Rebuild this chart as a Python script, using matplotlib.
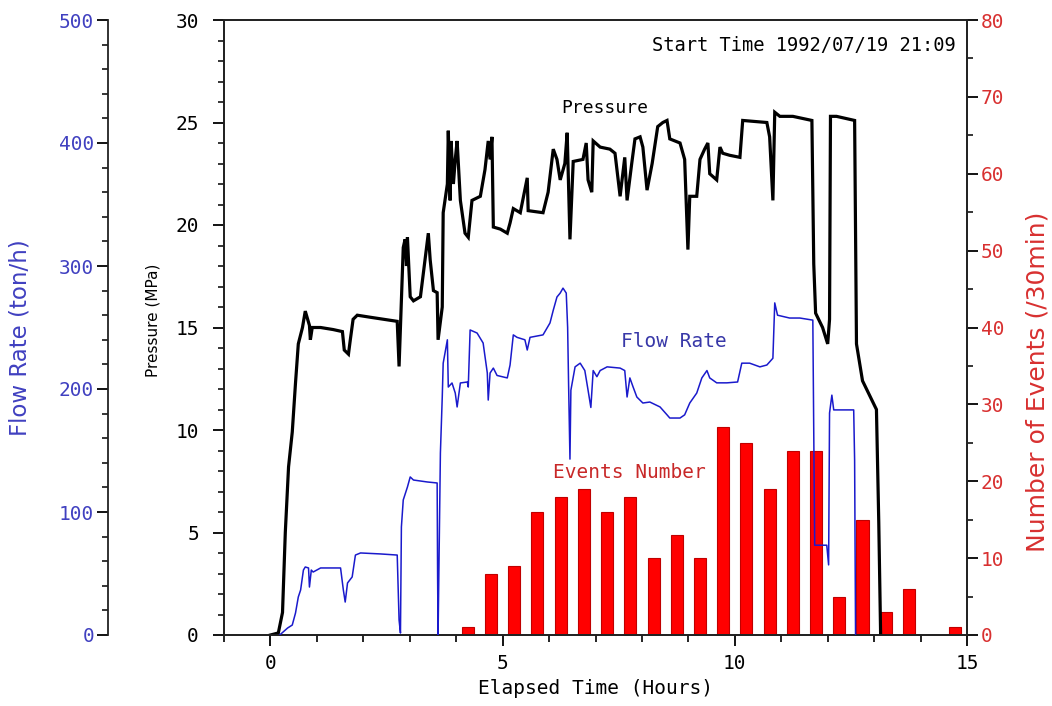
import matplotlib
matplotlib.use("Agg")
import matplotlib.pyplot as plt
from matplotlib.ticker import MultipleLocator

# ---- data ----
pressure_t = [0.0, 0.17, 0.26, 0.32, 0.39, 0.47, 0.54, 0.60, 0.69, 0.75, 0.84, 0.86, 0.90, 1.08, 1.35,
              1.55, 1.59, 1.68, 1.72, 1.78, 1.87, 2.15, 2.73, 2.77, 2.80, 2.84, 2.86, 2.90, 2.93, 2.95,
              3.01, 3.08, 3.23, 3.33, 3.40, 3.44, 3.51, 3.59, 3.61, 3.70, 3.72, 3.81, 3.83, 3.87, 3.89,
              3.94, 3.98, 4.02, 4.09, 4.19, 4.26, 4.34, 4.52, 4.62, 4.69, 4.73, 4.77, 4.80, 4.95, 5.10,
              5.16, 5.23, 5.38, 5.53, 5.55, 5.87, 5.98, 6.09, 6.17, 6.24, 6.34, 6.39, 6.45, 6.52, 6.73,
              6.80, 6.84, 6.92, 6.95, 7.10, 7.31, 7.42, 7.53, 7.63, 7.68, 7.78, 7.85, 7.96, 8.02, 8.11,
              8.22, 8.34, 8.45, 8.54, 8.60, 8.82, 8.92, 8.99, 9.03, 9.18, 9.25, 9.35, 9.42, 9.46, 9.61,
              9.68, 9.74, 9.89, 10.11, 10.17, 10.69, 10.75, 10.82, 10.86, 10.97, 11.25, 11.66, 11.70,
              11.74, 11.89, 12.00, 12.04, 12.06, 12.19, 12.58, 12.62, 12.75, 13.05, 13.10, 13.14]
pressure_mpa = [0.0, 0.1, 1.1, 5.0, 8.2, 9.9, 12.3, 14.2, 15.0, 15.8, 15.1, 14.4, 15.0, 15.0, 14.9,
                14.8, 13.9, 13.7, 14.4, 15.4, 15.6, 15.5, 15.3, 13.1, 15.0, 17.5, 18.9, 19.3, 18.0, 19.4,
                16.5, 16.3, 16.5, 18.3, 19.6, 18.3, 16.8, 16.7, 14.4, 16.0, 20.6, 22.0, 24.6, 21.2, 24.1,
                22.0, 23.2, 24.1, 21.2, 19.6, 19.4, 21.2, 21.4, 22.7, 24.1, 23.2, 24.3, 19.9, 19.8, 19.6,
                20.1, 20.8, 20.6, 22.3, 20.7, 20.6, 21.6, 23.7, 23.2, 22.2, 23.0, 24.5, 19.3, 23.1, 23.2,
                24.0, 22.2, 21.6, 24.1, 23.8, 23.7, 23.5, 21.4, 23.3, 21.2, 23.0, 24.2, 24.3, 23.8, 21.7,
                23.0, 24.8, 25.0, 25.1, 24.2, 24.0, 23.2, 18.8, 21.4, 21.4, 23.2, 23.7, 24.0, 22.5, 22.2,
                23.8, 23.5, 23.4, 23.3, 25.1, 25.0, 24.3, 21.2, 25.5, 25.3, 25.3, 25.1, 18.1,
                15.7, 15.0, 14.2, 15.4, 25.3, 25.3, 25.1, 14.2, 12.4, 11.0, 5.5, 0.0]

flow_t = [0.20, 0.37, 0.47, 0.54, 0.60, 0.65, 0.71, 0.75, 0.82, 0.84, 0.88, 0.92, 1.08, 1.51, 1.57,
          1.61, 1.66, 1.76, 1.83, 1.94, 2.37, 2.73, 2.77, 2.80, 2.82, 2.86, 2.95, 3.01, 3.08, 3.38,
          3.59, 3.60, 3.61, 3.66, 3.70, 3.72, 3.81, 3.83, 3.91, 3.98, 4.02, 4.09, 4.24, 4.26, 4.30,
          4.45, 4.58, 4.67, 4.69, 4.73, 4.80, 4.88, 5.10, 5.16, 5.23, 5.31, 5.48, 5.53, 5.59, 5.87,
          6.02, 6.09, 6.17, 6.24, 6.30, 6.37, 6.40, 6.42, 6.45, 6.47, 6.56, 6.67, 6.77, 6.84, 6.90,
          6.95, 7.03, 7.10, 7.25, 7.53, 7.63, 7.68, 7.74, 7.81, 7.89, 8.02, 8.17, 8.39, 8.54, 8.60,
          8.82, 8.92, 9.03, 9.18, 9.29, 9.40, 9.46, 9.61, 9.83, 10.06, 10.15, 10.32, 10.54, 10.69,
          10.82, 10.86, 10.92, 11.18, 11.40, 11.68, 11.72, 11.98, 12.02, 12.04, 12.09, 12.13, 12.56,
          12.58, 12.60]
flow_tph = [0.0, 5.7, 8.1, 17.9, 30.9, 36.6, 52.8, 55.3, 54.5, 39.0, 52.8, 51.2, 54.5, 54.5, 36.6,
            26.8, 42.3, 47.2, 65.0, 66.7, 65.9, 65.0, 12.2, 1.6, 87.8, 109.8, 120.3, 128.5, 126.0, 124.4,
            123.6, 47.2, 0.0, 148.0, 193.5, 221.0, 240.0, 201.6, 204.9, 196.7, 185.4, 204.9, 205.7, 201.6, 248.0,
            245.5, 237.4, 213.0, 191.0, 213.0, 217.0, 211.0, 209.0, 219.5, 244.0, 242.0, 240.0, 231.7, 242.0, 244.0,
            253.7, 264.0, 274.8, 278.0, 282.0, 278.0, 250.0, 205.0, 143.0, 199.0, 218.0, 221.0, 215.0, 199.0, 185.0,
            215.0, 210.0, 215.0, 218.0, 217.0, 215.0, 193.5, 209.0, 201.6, 193.5, 188.6, 189.4, 185.4, 179.0, 176.4,
            176.4, 179.0, 188.6, 196.7, 209.0, 215.0, 209.0, 205.0, 205.0, 205.7, 221.0, 221.0, 218.0, 219.5,
            225.0, 270.0, 260.0, 257.7, 257.7, 256.0, 73.0, 73.0, 57.0, 180.5, 195.0, 183.0, 183.0,
            142.0, 0.0]

event_t = [4.25, 4.75, 5.25, 5.75, 6.25, 6.75, 7.25, 7.75, 8.25, 8.75, 9.25,
           9.75, 10.25, 10.75, 11.25, 11.75, 12.25, 12.75, 13.25, 13.75, 14.25, 14.75]
event_n = [1, 8, 9, 16, 18, 19, 16, 18, 10, 13, 10,
           27, 25, 19, 24, 24, 5, 15, 3, 6, 0, 1]

x_ticks = [0, 5, 10, 15]
p_ticks = [0, 5, 10, 15, 20, 25, 30]
f_ticks = [0, 100, 200, 300, 400, 500]
e_ticks = [0, 10, 20, 30, 40, 50, 60, 70, 80]

# ---- styling ----
MONO = "DejaVu Sans Mono"
SANS = "DejaVu Sans"
BLUE_TXT = "#4040c0"
RED_TXT = "#d83030"

fig = plt.figure(figsize=(10.52, 7.06), dpi=100)
ax = fig.add_axes([224 / 1052, 71 / 706, (967 - 224) / 1052, (635 - 20) / 706])
ax_ev = ax.twinx()
ax_fl = ax.twinx()

ax_ev.set_zorder(0)
ax.set_zorder(1)
ax_fl.set_zorder(2)
ax.patch.set_visible(False)
ax_fl.patch.set_visible(False)
ax_ev.patch.set_facecolor("white")

# bars
ax_ev.bar(event_t, event_n, width=0.26, color="#ff0000", edgecolor="#c00000", linewidth=0.8)
ax_ev.set_ylim(0, 80)

# pressure
ax.plot(pressure_t, pressure_mpa, color="black", lw=2.3, solid_joinstyle="miter")
ax.set_xlim(-1, 15)
ax.set_ylim(0, 30)

# flow rate
ax_fl.plot(flow_t, flow_tph, color="#1a1acc", lw=1.1)
ax_fl.set_ylim(0, 500)

# ---- spines ----
for a in (ax, ax_ev, ax_fl):
    for s in a.spines.values():
        s.set_linewidth(1.3)
        s.set_color("#222222")

ax_fl.spines["left"].set_visible(True)
ax_fl.spines["left"].set_position(("axes", (108 - 224) / (967 - 224)))
ax_fl.spines["right"].set_visible(False)
ax_fl.spines["top"].set_visible(False)
ax_fl.spines["bottom"].set_visible(False)
ax_fl.yaxis.set_ticks_position("left")
ax_fl.yaxis.set_label_position("left")

# ---- ticks ----
ax.set_xticks(x_ticks)
ax.xaxis.set_minor_locator(MultipleLocator(1))
ax.set_yticks(p_ticks)
ax.yaxis.set_minor_locator(MultipleLocator(1))
ax_fl.set_yticks(f_ticks)
ax_fl.yaxis.set_minor_locator(MultipleLocator(20))
ax_ev.set_yticks(e_ticks)
ax_ev.yaxis.set_minor_locator(MultipleLocator(5))

ax.tick_params(axis="x", which="major", direction="out", length=8, width=1.3,
               labelsize=14, pad=6, top=False)
ax.tick_params(axis="x", which="minor", direction="out", length=5, width=1.2, top=False)
ax.tick_params(axis="y", which="major", direction="out", length=8, width=1.3,
               labelsize=14, pad=10, right=False)
ax.tick_params(axis="y", which="minor", direction="out", length=4, width=1.1, right=False)

ax_fl.tick_params(axis="y", which="major", direction="out", length=8, width=1.3,
                  labelsize=14, pad=2, labelcolor=BLUE_TXT)
ax_fl.tick_params(axis="y", which="minor", direction="out", length=4, width=1.1)

ax_ev.tick_params(axis="y", which="major", direction="out", length=8, width=1.3,
                  labelsize=14, pad=2, labelcolor=RED_TXT)
ax_ev.tick_params(axis="y", which="minor", direction="out", length=4, width=1.1)

for a in (ax, ax_fl, ax_ev):
    for lab in a.get_xticklabels() + a.get_yticklabels():
        lab.set_family(MONO)

# ---- labels ----
W = 967 - 224
ax.set_xlabel("Elapsed Time (Hours)", fontsize=14, family=MONO, labelpad=4)
ax.set_ylabel("Pressure (MPa)", fontsize=11, family=SANS)
ax.yaxis.set_label_coords((160 - 224) / W, (635 - 320) / 615)
ax_fl.set_ylabel("Flow Rate (ton/h)", fontsize=16.5, family=SANS, color=BLUE_TXT)
ax_fl.yaxis.set_label_coords((32 - 224) / W, (635 - 338) / 615)
ax_ev.set_ylabel("Number of Events (/30min)", fontsize=18, family=SANS, color=RED_TXT)
ax_ev.yaxis.set_label_coords((1026 - 224) / W, (635 - 382) / 615)

# ---- in-plot annotations ----
ax.text(7.2, 25.7, "Pressure", fontsize=13, family=MONO, color="black", ha="center", va="center")
ax.text(8.69, 14.3, "Flow Rate", fontsize=14, family=MONO, color="#3838a8", ha="center", va="center")
ax.text(7.74, 7.95, "Events Number", fontsize=14, family=MONO, color="#c82828", ha="center", va="center")
ax.text(0.985, 0.958, "Start Time 1992/07/19 21:09", transform=ax.transAxes, fontsize=13.5,
        family=MONO, color="black", ha="right", va="center")

fig.savefig("out.png", dpi=100, facecolor="white")
